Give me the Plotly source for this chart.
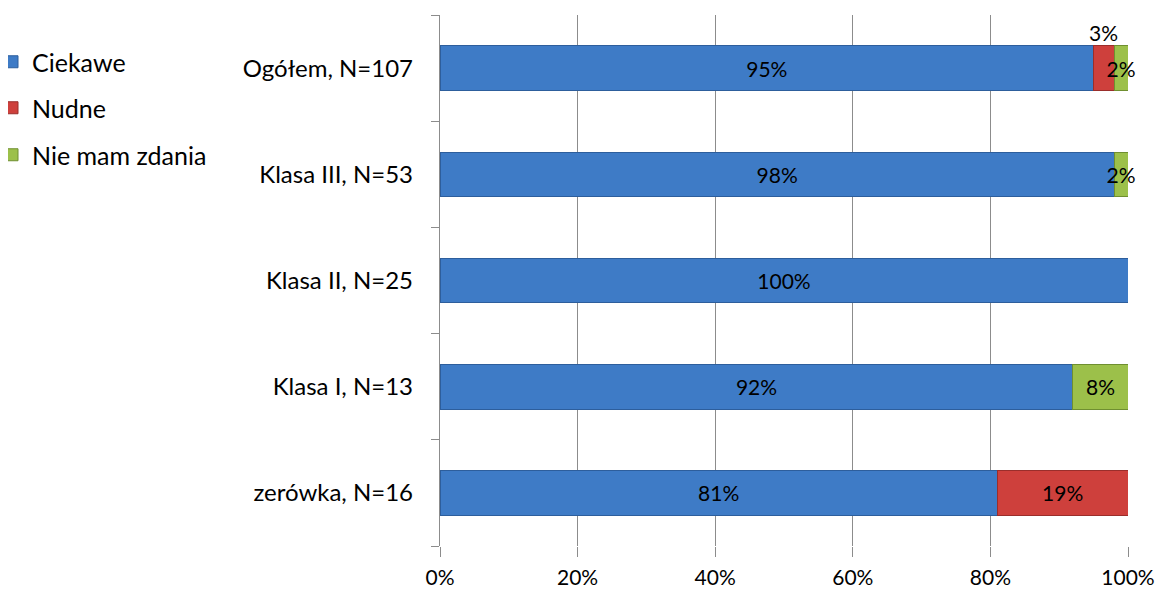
import plotly.graph_objects as go

categories = ["zerówka, N=16", "Klasa I, N=13", "Klasa II, N=25", "Klasa III, N=53", "Ogółem, N=107"]
ciekawe = [81, 92, 100, 98, 95]
nudne = [19, 0, 0, 0, 3]
nie_mam_zdania = [0, 8, 0, 2, 2]
series_names = ["Ciekawe", "Nudne", "Nie mam zdania"]
x_ticks = [0, 20, 40, 60, 80, 100]
x_tick_labels = ["0%", "20%", "40%", "60%", "80%", "100%"]
# labels drawn above the bar instead of inside (series index, category)
above_labels = [(1, "Ogółem, N=107")]

colors = ["#3E7BC6", "#CE403C", "#9CC04A"]
edge = ["#2D5E9C", "#9A2E2B", "#6F8F30"]
FONT = "Lato, Calibri, Carlito, sans-serif"

# page body has an 8px margin, so the figure is laid out 8px smaller
OFF = 8
W, H = 1163 - OFF, 591 - OFF
L, T, R, B = 440 - OFF, 15 - OFF, 35, 45
plot_w = W - L - R
plot_h = H - T - B

fig = go.Figure()
all_series = [ciekawe, nudne, nie_mam_zdania]
legend_ids = ["legend", "legend2", "legend3"]
for i, (name, vals) in enumerate(zip(series_names, all_series)):
    texts = []
    for cat, v in zip(categories, vals):
        if v <= 0 or (i, cat) in above_labels:
            texts.append("")
        else:
            texts.append(f"{v}%")
    fig.add_trace(go.Bar(
        y=categories, x=vals, name=name, orientation="h",
        marker=dict(color=colors[i], line=dict(color=edge[i], width=1)),
        text=texts, textposition="inside", insidetextanchor="middle",
        textangle=0, constraintext="none",
        textfont=dict(color="black", size=21, family=FONT),
        cliponaxis=False, width=0.42, legend=legend_ids[i], showlegend=True,
    ))

# labels placed above their bar segment
for (si, cat) in above_labels:
    idx = categories.index(cat)
    start = sum(all_series[k][idx] for k in range(si))
    v = all_series[si][idx]
    fig.add_annotation(x=start + v / 2, y=cat, text=f"{v}%", showarrow=False,
                       yshift=36, font=dict(size=21, color="black", family=FONT))

def py(p):
    # page pixel (y) -> paper coordinate
    return (H - B - (p - OFF)) / plot_h

leg_common = dict(font=dict(size=25, family=FONT, color="black"), bgcolor="rgba(0,0,0,0)",
                  xanchor="left", yanchor="middle", x=(-16 - L) / plot_w, itemwidth=30,
                  visible=True)
fig.update_layout(
    barmode="stack",
    width=W, height=H,
    margin=dict(l=L, r=R, t=T, b=B, autoexpand=False),
    paper_bgcolor="white", plot_bgcolor="white",
    font=dict(family=FONT, size=21, color="black"),
    showlegend=True,
    bargap=0.58,
    legend=dict(**leg_common, y=py(62)),
    legend2=dict(**leg_common, y=py(108)),
    legend3=dict(**leg_common, y=py(155)),
    xaxis=dict(range=[0, 100], tickvals=x_ticks, ticktext=x_tick_labels,
               showgrid=True, gridcolor="#8C8C8C", gridwidth=1.3,
               ticks="outside", ticklen=10, tickcolor="#8C8C8C",
               showline=False, zeroline=False, automargin=False,
               ticklabelstandoff=3,
               tickfont=dict(size=21, family=FONT, color="black")),
    yaxis=dict(categoryorder="array", categoryarray=categories,
               showline=True, linecolor="#8C8C8C", linewidth=1.3,
               ticks="outside", ticklen=8, tickcolor="#8C8C8C", tickson="boundaries",
               showgrid=False, ticklabelstandoff=21, automargin=False,
               tickfont=dict(size=24, family=FONT, color="black")),
)

fig.write_html("out.html")
